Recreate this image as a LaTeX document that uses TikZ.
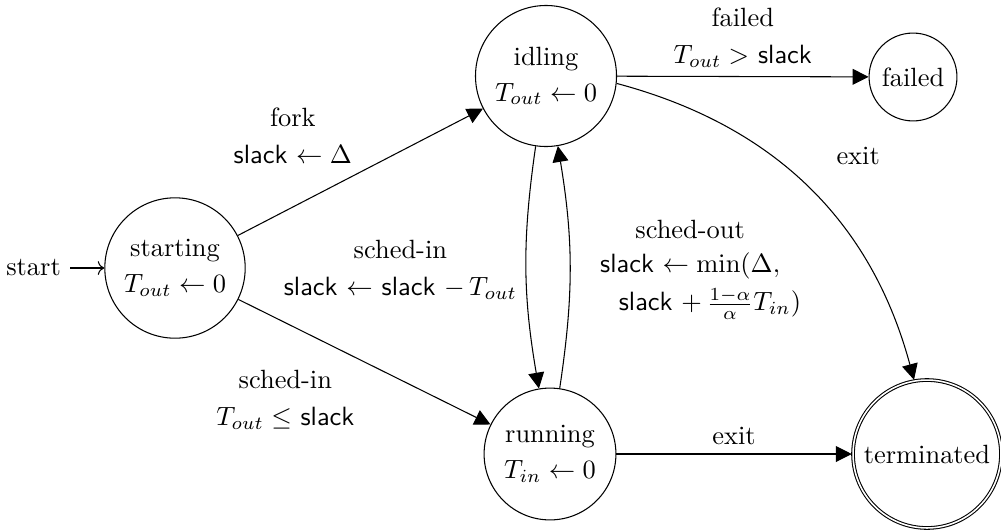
\documentclass[tikz,border=0pt]{standalone}
\usetikzlibrary{automata,arrows.meta,positioning}
\newcommand{\slk}{\textsf{slack}}
\begin{document}
\begin{tikzpicture}[x=0.01331cm,y=-0.01331cm,
  st/.style={state,align=center,inner sep=3.33pt,minimum size=0pt},
  tr/.style={-{Triangle[length=6pt,width=6pt]},draw},
  lbl/.style={align=center,inner sep=3.33pt}]
\useasboundingbox (0,0) rectangle (1001,531);
\node[st,initial,initial text=start] (s) at (175,268) {starting\\[1.5pt]$T_{out}\leftarrow 0$};
\node[st] (i) at (546,76) {idling\\[1.5pt]$T_{out}\leftarrow 0$};
\node[st] (f) at (913,77) {failed};
\node[st] (r) at (550,454) {running\\[1.5pt]$T_{in}\leftarrow 0$};
\node[st,accepting] (t) at (927,454) {terminated};
\draw[tr] (s) -- node[lbl,above left,pos=0.45,xshift=5pt,yshift=2pt] {fork\\[2pt]\slk{} $\leftarrow\Delta$} (i);
\draw[tr] (s) -- node[lbl,below left,pos=0.45,xshift=4.5pt,yshift=-2pt] {sched-in\\[2pt]$T_{out}\leq$ \slk} (r);
\draw[tr] (i) -- node[lbl,above] {failed\\[2pt]$T_{out}>$ \slk} (f);
\draw[tr] (i) to[bend right=9] node[lbl,left,yshift=-1pt] {sched-in\\[2pt]\slk{} $\leftarrow$ \slk{} $-\,T_{out}$} (r);
\draw[tr] (r) to[bend right=9] node[lbl,right,yshift=-1pt] {sched-out\\[1pt]\slk{} $\leftarrow\min(\Delta,$\\[2.5pt]\hspace*{15pt}\slk{} $+\,\frac{1-\alpha}{\alpha}T_{in})$} (i);
\draw[tr] (i.-6) to[bend left=30] node[lbl,auto,xshift=7pt,yshift=5.5pt] {exit} (t);
\draw[tr] (r) -- node[lbl,above] {exit} (t);
\end{tikzpicture}
\end{document}
